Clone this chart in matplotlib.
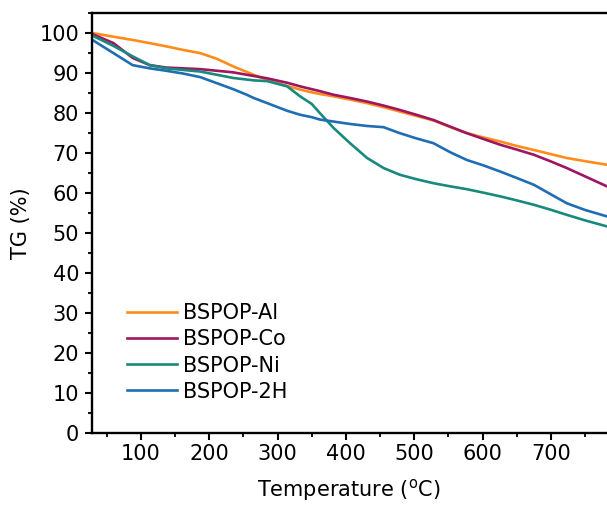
import matplotlib
matplotlib.use("Agg")
import matplotlib.pyplot as plt
from matplotlib.ticker import MultipleLocator

# Temperature grid (°C)
temperature = [30, 60, 88, 113, 137, 162, 187, 211, 235, 255, 265, 285, 314, 333,
               350, 362, 382, 406, 431, 455, 479, 503, 528, 553, 577, 602, 626, 650,
               675, 699, 723, 750, 782]

tg_al = [100.0, 99.1, 98.3, 97.5, 96.7, 95.8, 95.0, 93.6, 91.7, 90.3, 89.6, 88.3, 86.8, 85.9,
         85.2, 84.8, 84.2, 83.4, 82.5, 81.5, 80.4, 79.3, 78.2, 76.5, 75.0, 73.9, 72.9, 71.8,
         70.8, 69.8, 68.8, 68.0, 67.1]
tg_co = [99.7, 97.5, 93.8, 92.0, 91.4, 91.2, 91.0, 90.6, 90.2, 89.6, 89.3, 88.7, 87.6, 86.7,
         86.0, 85.5, 84.6, 83.8, 82.9, 81.9, 80.8, 79.6, 78.3, 76.6, 75.0, 73.5, 72.1, 70.9,
         69.6, 68.0, 66.3, 64.2, 61.7]
tg_ni = [99.3, 96.8, 94.2, 92.0, 91.2, 90.8, 90.4, 89.6, 88.8, 88.4, 88.2, 88.0, 86.7, 84.2,
         82.3, 80.0, 76.3, 72.5, 68.8, 66.3, 64.6, 63.5, 62.5, 61.7, 61.0, 60.1, 59.2, 58.2,
         57.1, 55.9, 54.6, 53.2, 51.7]
tg_2h = [98.2, 95.0, 92.0, 91.2, 90.6, 89.9, 89.0, 87.5, 86.0, 84.6, 83.8, 82.5, 80.6, 79.6,
         79.0, 78.4, 77.9, 77.3, 76.8, 76.5, 75.0, 73.7, 72.5, 70.2, 68.3, 66.9, 65.4, 63.8,
         62.1, 59.8, 57.5, 55.8, 54.2]

labels = ["BSPOP-Al", "BSPOP-Co", "BSPOP-Ni", "BSPOP-2H"]
colors = ["#FF8C1A", "#9E1560", "#178A7C", "#1F6DB3"]

plt.rcParams["font.family"] = ["DejaVu Sans"]
plt.rcParams["font.size"] = 15

fig = plt.figure(figsize=(6.07, 5.05), dpi=100)
ax = fig.add_axes([0.151, 0.142, 0.849, 0.832])

for ys, lab, c in zip([tg_al, tg_co, tg_ni, tg_2h], labels, colors):
    ax.plot(temperature, ys, color=c, linewidth=1.9, label=lab,
            solid_joinstyle="round")

ax.set_xlim(28, 782)
ax.set_ylim(0, 105)
ax.xaxis.set_major_locator(MultipleLocator(100))
ax.xaxis.set_minor_locator(MultipleLocator(50))
ax.yaxis.set_major_locator(MultipleLocator(10))
ax.yaxis.set_minor_locator(MultipleLocator(5))
ax.set_xticks([100, 200, 300, 400, 500, 600, 700])

for s in ["left", "bottom", "top"]:
    ax.spines[s].set_linewidth(1.7)
ax.spines["right"].set_visible(False)

ax.tick_params(which="major", direction="out", length=5, width=1.5, labelsize=15, pad=4)
ax.tick_params(which="minor", direction="out", length=3, width=1.3)
ax.tick_params(axis="x", which="major", pad=3)

ax.set_xlabel(r"Temperature ($^{\rm o}$C)", fontsize=15, labelpad=9)
ax.set_ylabel("TG (%)", fontsize=15, labelpad=6)

ax.legend(loc="upper left", bbox_to_anchor=(0.068, 0.31), frameon=False,
          borderpad=0, borderaxespad=0, handlelength=2.4, handletextpad=0.3,
          labelspacing=0.3, fontsize=15)

fig.savefig("out.png", dpi=100)
